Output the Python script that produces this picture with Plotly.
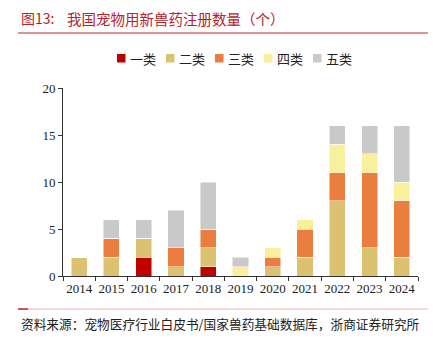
import plotly.graph_objects as go

years = ["2014", "2015", "2016", "2017", "2018", "2019", "2020", "2021", "2022", "2023", "2024"]
class1 = [0, 0, 2, 0, 1, 0, 0, 0, 0, 0, 0]
class2 = [2, 2, 2, 1, 2, 0, 1, 2, 8, 3, 2]
class3 = [0, 2, 0, 2, 2, 0, 1, 3, 3, 8, 6]
class4 = [0, 0, 0, 0, 0, 1, 1, 1, 3, 2, 2]
class5 = [0, 2, 2, 4, 5, 1, 0, 0, 2, 3, 6]
names = ["一类", "二类", "三类", "四类", "五类"]
colors = ["#C00000", "#DBC272", "#EA7D3F", "#F9F09E", "#C9C9C9"]

fig = go.Figure()
for name, vals, col in zip(names, [class1, class2, class3, class4, class5], colors):
    fig.add_trace(go.Bar(
        x=years, y=vals, name=name,
        marker=dict(color=col, line=dict(color="rgba(255,255,255,0.6)", width=0.8)),
        width=0.5, showlegend=False,
    ))

# plot area in pixels
L, R, T, B = 63, 418, 88, 276
W, H = 433, 341
def px(x): return (x - L) / (R - L)
def py(y): return (B - y) / (B - T)

fig.update_layout(
    barmode="stack",
    width=W, height=H,
    margin=dict(l=L, r=W - R, t=T, b=H - B, pad=0),
    plot_bgcolor="white", paper_bgcolor="white",
    showlegend=False,
    xaxis=dict(type="category", range=[-0.5, 10.5], showline=True, linecolor="#333", linewidth=1,
               ticks="outside", tickson="boundaries", ticklen=4, tickcolor="#333", tickangle=0,
               tickfont=dict(family="Liberation Serif", size=13, color="#222"), showgrid=False),
    yaxis=dict(range=[0, 20], tickvals=[0, 5, 10, 15, 20], showline=True, linecolor="#333", linewidth=1,
               ticks="outside", ticklen=4, tickcolor="#333", showgrid=False, zeroline=False,
               tickfont=dict(family="Liberation Serif", size=13, color="#222")),
    font=dict(family="Noto Sans CJK SC"),
)

# manual legend
for i, (name, col) in enumerate(zip(names, colors)):
    x0 = 117 + 49 * i
    fig.add_shape(type="rect", xref="paper", yref="paper", x0=px(x0), x1=px(x0 + 8.5),
                  y0=py(62.5), y1=py(54), fillcolor=col, line=dict(width=0))
    fig.add_annotation(text=name, xref="paper", yref="paper", x=px(x0 + 10.5), y=py(58.5),
                       xanchor="left", yanchor="middle", showarrow=False,
                       font=dict(family="Noto Sans CJK SC", size=13, color="#222"))

fig.add_annotation(text="图13:", xref="paper", yref="paper",
                   x=px(19), y=py(18), xanchor="left", yanchor="middle", showarrow=False,
                   font=dict(family="Noto Sans CJK SC", size=14, color="#B8232A"))
fig.add_annotation(text="我国宠物用新兽药注册数量（个）", xref="paper", yref="paper",
                   x=px(65), y=py(18), xanchor="left", yanchor="middle", showarrow=False,
                   font=dict(family="Noto Sans CJK SC", size=14.5, color="#B8232A"))
fig.add_annotation(text="资料来源：宠物医疗行业白皮书/国家兽药基础数据库，浙商证券研究所", xref="paper", yref="paper",
                   x=px(19), y=py(323), xanchor="left", yanchor="middle", showarrow=False,
                   font=dict(family="Noto Sans CJK SC", size=12.7, color="#222"))

fig.add_shape(type="line", xref="paper", yref="paper", x0=px(18), x1=px(428), y0=py(33), y1=py(33),
              line=dict(color="#C0282D", width=1.2))
fig.add_shape(type="line", xref="paper", yref="paper", x0=px(18), x1=px(428), y0=py(309), y1=py(309),
              line=dict(color="#EDB3B3", width=1))
fig.add_shape(type="line", xref="paper", yref="paper", x0=px(18), x1=px(28), y0=py(309), y1=py(309),
              line=dict(color="#C0282D", width=1.5))

fig.write_html("out.html")
